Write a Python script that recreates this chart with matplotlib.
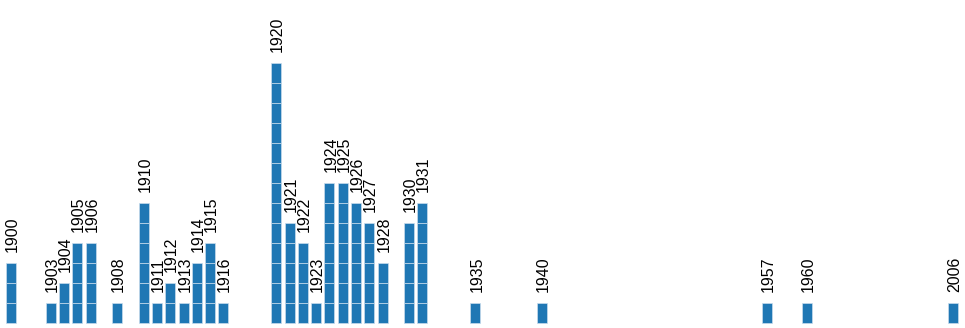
import numpy as np
import matplotlib
matplotlib.use("Agg")
import matplotlib.pyplot as plt

years = [1900, 1903, 1904, 1905, 1906, 1908, 1910, 1911, 1912, 1913, 1914, 1915, 1916,
         1920, 1921, 1922, 1923, 1924, 1925, 1926, 1927, 1928, 1930, 1931,
         1935, 1940, 1957, 1960, 2006]
counts = [3, 1, 2, 4, 4, 1, 6, 1, 2, 1, 3, 4, 1,
          13, 5, 4, 1, 7, 7, 6, 5, 3, 5, 6,
          1, 1, 1, 1, 1]

# band domain: every year 1900-1970, then the lone 2006
domain = list(range(1900, 1971)) + [2006]
pos = [domain.index(y) for y in years]

plt.rcParams['font.family'] = ['Liberation Sans', 'DejaVu Sans']
fig = plt.figure(figsize=(9.65, 3.28), dpi=100)
ax = fig.add_axes([0, 0, 1, 1])

step = 13.27
bar_w = 10 / step
for p, c in zip(pos, counts):
    ax.bar([p] * c, np.ones(c), bottom=np.arange(c), width=bar_w,
           color='#1f77b4', edgecolor='#c8dcec', linewidth=0.5)

for p, c, y in zip(pos, counts, years):
    ax.text(p + 0.1, c + 0.55, str(y), rotation=90, ha='center', va='bottom', fontsize=11.5)

ax.set_xlim(-11 / step, (965 - 11) / step)
ax.set_ylim(-5 / 20, 323 / 20)
ax.axis('off')

fig.savefig("out.png", dpi=100)
